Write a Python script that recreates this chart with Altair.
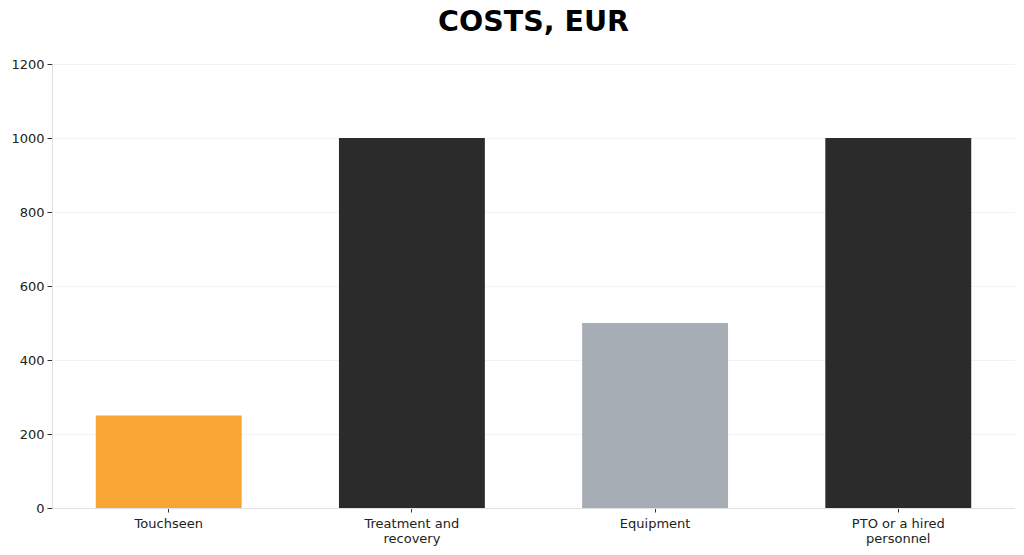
import altair as alt
import pandas as pd

categories = ["Touchseen", "Treatment and\nrecovery", "Equipment", "PTO or a hired\npersonnel"]
values = [250, 1000, 500, 1000]
colors = ["#F9A533", "#2B2B2B", "#A6ADB4", "#2B2B2B"]

df = pd.DataFrame({"category": categories, "value": values, "color": colors})

chart = alt.Chart(df).mark_bar().encode(
    x=alt.X("category:N", sort=categories, title=None,
            scale=alt.Scale(paddingInner=0.4, paddingOuter=0.18),
            axis=alt.Axis(labelAngle=0, labelExpr="split(datum.label, '\\n')",
                          labelFontSize=13, labelColor="#222", labelPadding=5,
                          tickSize=4, tickColor="#333", domainColor="#e0e0e0",
                          grid=False, labelFont="DejaVu Sans", labelLineHeight=15)),
    y=alt.Y("value:Q", title=None,
            scale=alt.Scale(domain=[0, 1200], nice=False),
            axis=alt.Axis(values=[0, 200, 400, 600, 800, 1000, 1200], format="d",
                          labelFontSize=13, labelColor="#222", labelPadding=3,
                          tickSize=5, tickColor="#333", domainColor="#e0e0e0",
                          grid=True, gridColor="#f2f2f2", labelFont="DejaVu Sans")),
    color=alt.Color("color:N", scale=None),
).properties(
    width=963, height=444,
    title=alt.TitleParams("COSTS, EUR", font="DejaVu Sans", fontSize=28.5,
                          fontWeight="bold", color="#000", anchor="middle",
                          offset=22),
    autosize=alt.AutoSizeParams(type="none"),
    padding={"left": 44, "top": 56, "right": 0, "bottom": 39},
).configure_view(stroke=None)

chart.save("out.html", embed_options={"renderer": "svg", "actions": False})
